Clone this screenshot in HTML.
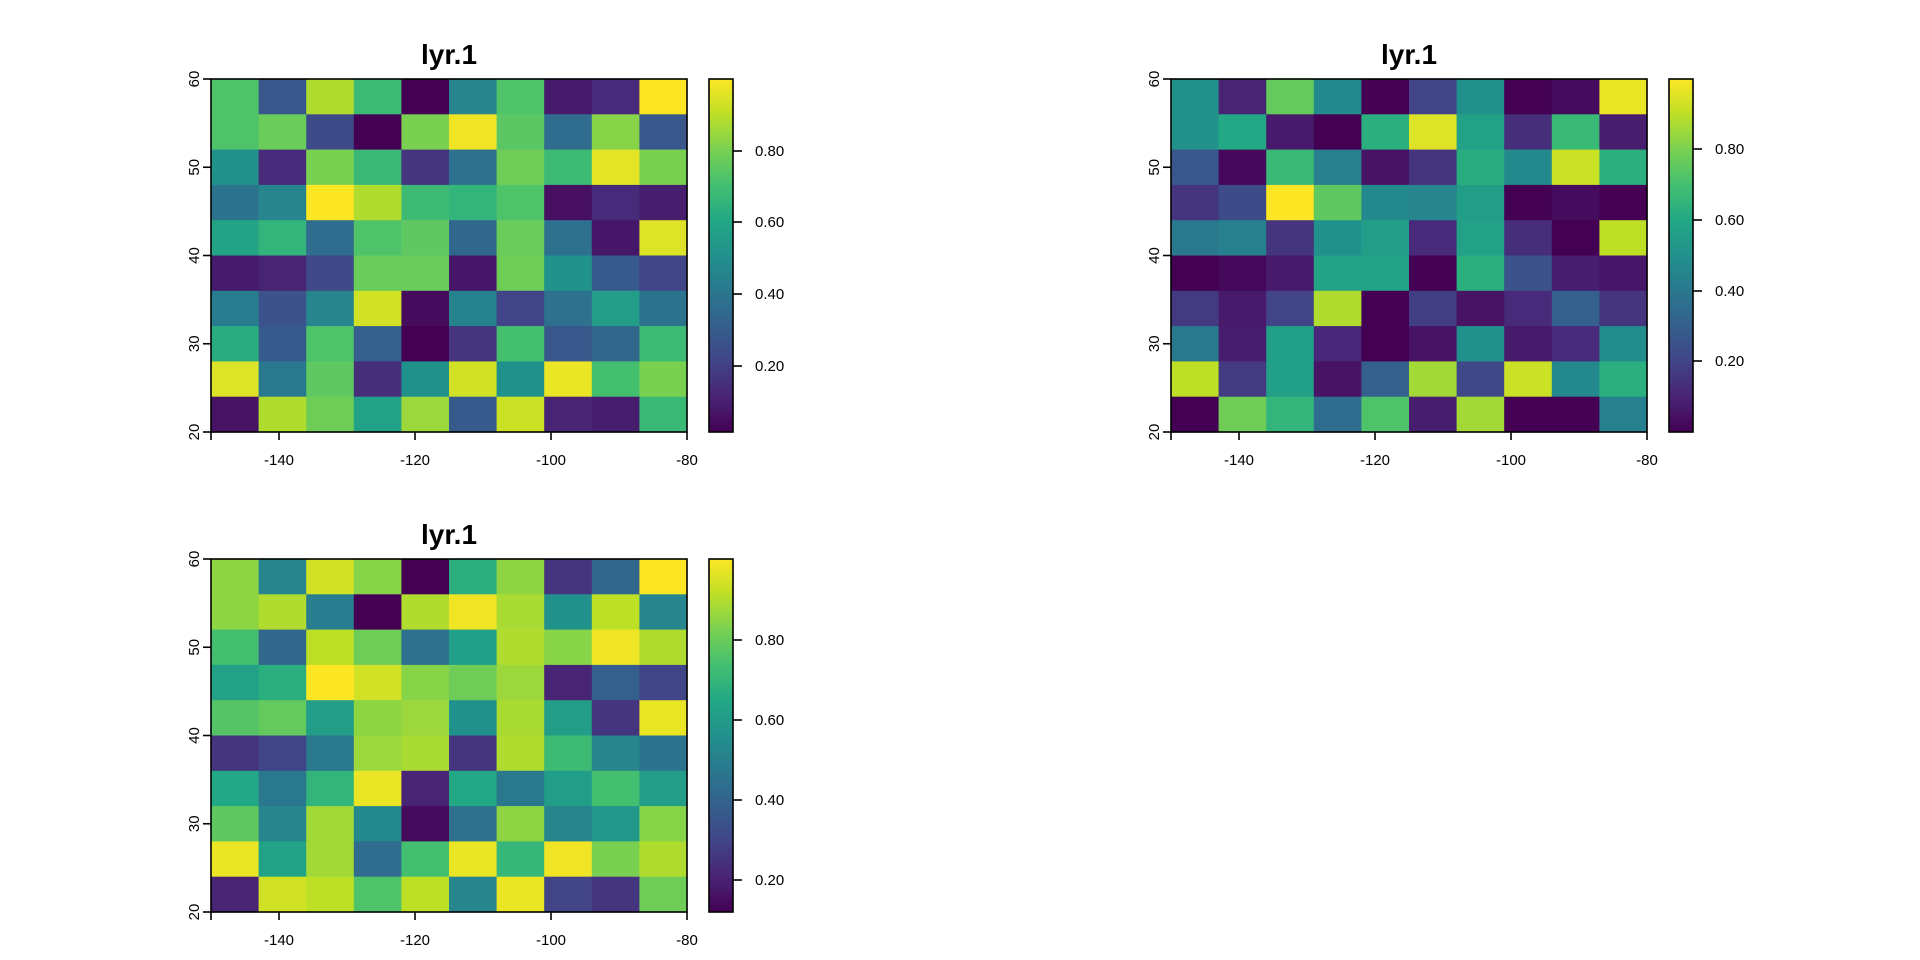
<!DOCTYPE html>
<html><head><meta charset="utf-8"><style>
html,body{margin:0;padding:0;background:#fff;}
svg{display:block;font-family:"Liberation Sans",Arial,sans-serif;}
</style></head><body>
<svg id="s" width="1920" height="960" xmlns="http://www.w3.org/2000/svg"></svg>
<script>
const V=["#440154","#482475","#414487","#355f8d","#2a788e","#21918c","#22a884","#44bf70","#7ad151","#bddf26","#fde725"];
function h2r(h){return [1,3,5].map(i=>parseInt(h.substr(i,2),16));}
function vir(t){t=Math.max(0,Math.min(1,t));const p=t*10,i=Math.min(9,Math.floor(p)),f=p-i;const a=h2r(V[i]),b=h2r(V[i+1]);return "rgb("+a.map((x,k)=>Math.round(x+(b[k]-x)*f)).join(",")+")";}
const P1=[[.72,.27,.88,.68,0,.45,.72,.07,.12,1],[.72,.77,.23,0,.8,.98,.74,.35,.82,.27],[.5,.12,.8,.67,.15,.37,.78,.68,.96,.8],[.38,.45,1,.88,.68,.65,.72,.04,.12,.08],[.58,.65,.35,.72,.75,.33,.77,.37,.06,.95],[.07,.1,.22,.77,.77,.06,.78,.5,.28,.2],[.42,.25,.45,.93,.03,.44,.2,.37,.55,.38],[.62,.28,.72,.3,0,.15,.7,.27,.33,.68],[.95,.4,.75,.13,.5,.93,.5,.97,.7,.8],[.05,.88,.78,.57,.85,.28,.92,.1,.08,.67]];
const P2=[[.5,.1,.76,.47,0,.2,.5,0,.03,.97],[.5,.6,.07,0,.63,.95,.57,.13,.67,.08],[.27,.02,.67,.43,.05,.15,.62,.47,.92,.63],[.15,.23,1,.75,.47,.45,.55,0,.03,0],[.4,.43,.15,.5,.55,.12,.57,.13,0,.9],[0,.02,.07,.58,.58,0,.63,.25,.08,.06],[.17,.07,.2,.88,0,.18,.05,.12,.3,.15],[.4,.08,.56,.11,0,.05,.5,.07,.12,.48],[.9,.17,.56,.05,.3,.86,.22,.92,.47,.63],[0,.78,.65,.35,.72,.08,.86,0,0,.43]];
const P3=[[.83,.45,.93,.82,0,.63,.83,.15,.33,1],[.83,.88,.42,0,.88,.98,.87,.5,.9,.45],[.7,.33,.9,.78,.37,.56,.88,.82,.98,.88],[.57,.63,1,.93,.82,.78,.85,.1,.3,.2],[.73,.76,.55,.83,.85,.5,.87,.55,.15,.97],[.15,.2,.4,.85,.87,.15,.88,.68,.45,.38],[.6,.4,.65,.97,.1,.6,.4,.55,.7,.55],[.75,.45,.86,.47,.03,.37,.83,.45,.53,.82],[.97,.58,.86,.35,.7,.97,.66,.98,.8,.88],[.1,.93,.9,.72,.9,.45,.97,.2,.15,.78]];
let o='<defs><linearGradient id="g" x1="0" y1="1" x2="0" y2="0">';
for(let i=0;i<=10;i++)o+='<stop offset="'+i/10+'" stop-color="'+V[i]+'"/>';
o+='</linearGradient></defs>';
function plot(dx,dy,D,cbt){
 const L=211+dx,T=79+dy,W=476,H=353,cw=W/10,ch=H/10;
 o+='<text x="'+(449+dx)+'" y="'+(64+dy)+'" font-size="28" font-weight="bold" text-anchor="middle">lyr.1</text>';
 for(let r=0;r<10;r++)for(let c=0;c<10;c++)o+='<rect x="'+(L+c*cw).toFixed(2)+'" y="'+(T+r*ch).toFixed(2)+'" width="'+(cw+.6).toFixed(2)+'" height="'+(ch+.6).toFixed(2)+'" fill="'+vir(D[r][c])+'"/>';
 o+='<rect x="'+L+'" y="'+T+'" width="'+W+'" height="'+H+'" fill="none" stroke="#000" stroke-width="1.6"/>';
 [-150,-140,-120,-100,-80].forEach(v=>{const x=L+(v+150)/70*W;o+='<line x1="'+x+'" y1="'+(T+H)+'" x2="'+x+'" y2="'+(T+H+8)+'" stroke="#000" stroke-width="1.6"/>';if(v!=-150)o+='<text x="'+x+'" y="'+(T+H+33)+'" font-size="15" text-anchor="middle">'+v+'</text>';});
 [20,30,40,50,60].forEach(v=>{const y=T+H-(v-20)/40*H;o+='<line x1="'+(L-8)+'" y1="'+y+'" x2="'+L+'" y2="'+y+'" stroke="#000" stroke-width="1.6"/>';o+='<text transform="translate('+(L-12)+','+y+') rotate(-90)" font-size="15" text-anchor="middle">'+v+'</text>';});
 const cx=709+dx;
 o+='<rect x="'+cx+'" y="'+T+'" width="24" height="'+H+'" fill="url(#g)" stroke="#000" stroke-width="1.6"/>';
 cbt.forEach(([y,l])=>{y+=dy;o+='<line x1="'+(cx+24)+'" y1="'+y+'" x2="'+(cx+33)+'" y2="'+y+'" stroke="#000" stroke-width="1.6"/><text x="'+(cx+46)+'" y="'+(y+5)+'" font-size="15">'+l+'</text>';});
}
const t1=[[151,"0.80"],[222,"0.60"],[294,"0.40"],[366,"0.20"]];
plot(0,0,P1,t1);
plot(960,0,P2,[[149,"0.80"],[220,"0.60"],[291,"0.40"],[361,"0.20"]]);
plot(0,480,P3,[[160,"0.80"],[240,"0.60"],[320,"0.40"],[400,"0.20"]]);
document.getElementById('s').innerHTML=o;
</script>
</body></html>
